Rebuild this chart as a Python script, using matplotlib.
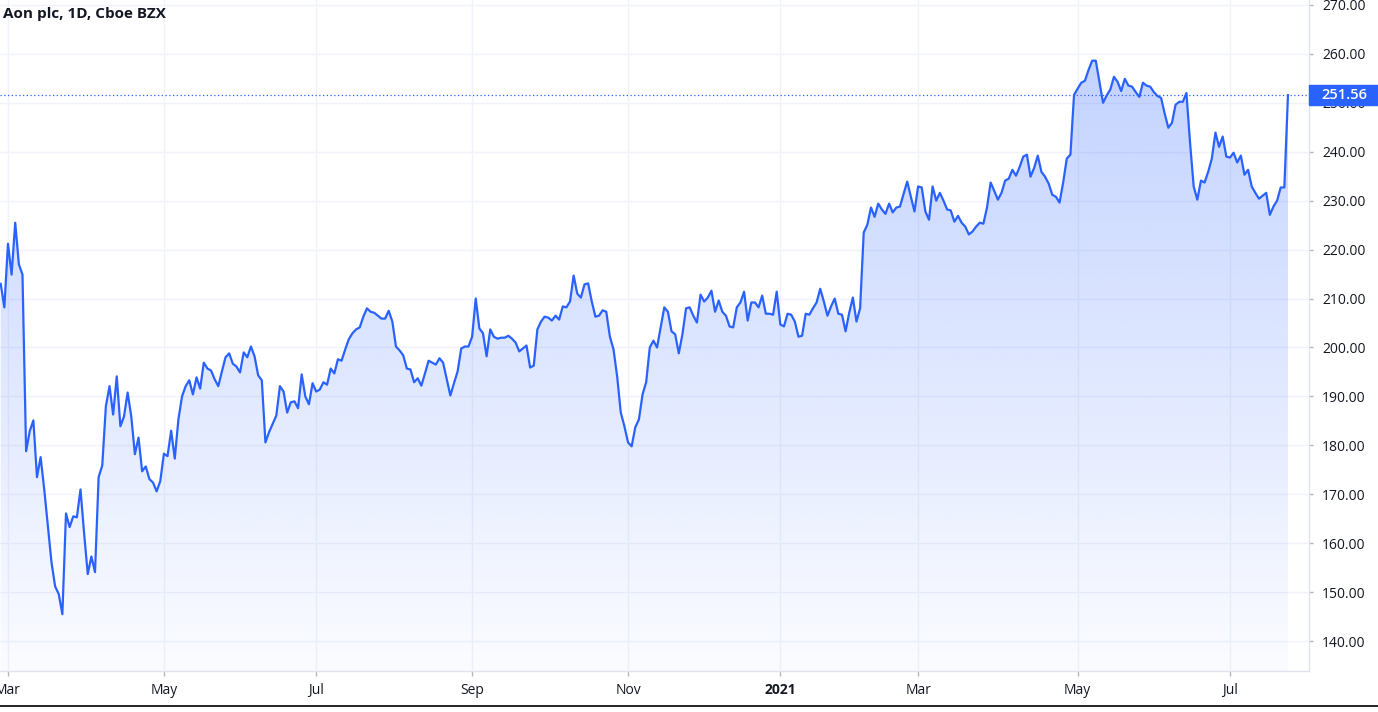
import numpy as np
import pandas as pd
import matplotlib
matplotlib.use("Agg")
import matplotlib.pyplot as plt
from matplotlib.colors import to_rgb
from matplotlib.lines import Line2D
from matplotlib.patches import Rectangle

TITLE = "Aon plc, 1D, Cboe BZX"
START, END = "2020-02-27", "2021-07-26"
HOLIDAYS = ["2020-04-10", "2020-05-25", "2020-07-03", "2020-09-07", "2020-11-26",
            "2020-12-25", "2021-01-01", "2021-01-18", "2021-02-15", "2021-04-02",
            "2021-05-31", "2021-07-05"]

# daily closes, one per trading day
closes = [
    # Feb 2020
    213.0, 208.2,
    # Mar 2020
    221.2, 214.9, 225.5, 217.0, 214.9, 178.8, 182.9, 185.1, 173.5, 177.6, 171.0,
    163.5, 156.1, 151.2, 149.6, 145.5, 166.1, 163.3, 165.5, 165.3, 171.0, 162.0,
    # Apr 2020
    153.7, 157.3, 154.1, 173.5, 175.9, 188.0, 192.1, 186.3, 194.1, 183.9, 185.9,
    190.8, 185.9, 178.2, 181.6, 174.7, 175.7, 173.1, 172.4, 170.6, 172.7,
    # May 2020
    178.3, 177.8, 183.0, 177.3, 185.3, 190.0, 192.1, 193.3, 190.4, 193.9, 191.6,
    196.9, 195.7, 195.3, 193.5, 192.1, 195.1, 198.0, 198.8, 196.7,
    # Jun 2020
    196.1, 194.9, 199.0, 198.0, 200.2, 198.2, 194.3, 193.3, 180.6, 182.7, 184.4,
    186.1, 192.1, 191.0, 186.7, 188.8, 189.0, 187.6, 194.5, 190.0, 188.4, 192.7,
    # Jul 2020
    191.0, 191.4, 192.9, 192.4, 195.7, 194.7, 197.6, 197.3, 199.6, 201.7, 202.9,
    203.7, 204.1, 206.3, 208.0, 207.3, 207.1, 206.5, 205.9, 205.9, 207.5, 205.3,
    # Aug 2020
    200.2, 199.4, 198.4, 195.7, 195.5, 192.9, 193.7, 192.2, 194.7, 197.3, 196.9,
    196.5, 197.8, 196.9, 193.5, 190.2, 192.7, 195.1, 199.8, 200.2, 200.2,
    # Sep 2020
    202.2, 210.0, 203.9, 202.9, 198.2, 203.7, 202.2, 201.8, 202.0, 202.0, 202.4,
    201.8, 201.0, 199.2, 199.8, 200.4, 195.9, 196.3, 203.7, 205.3, 206.3,
    # Oct 2020
    206.1, 205.5, 206.5, 205.7, 208.4, 208.2, 209.4, 214.7, 211.0, 210.2, 212.9,
    213.1, 209.4, 206.3, 206.5, 207.6, 207.3, 202.2, 199.6, 194.1, 186.7, 183.9,
    # Nov 2020
    180.6, 179.8, 183.7, 185.3, 190.4, 192.9, 200.0, 201.4, 200.0, 204.1, 208.2,
    207.3, 203.3, 202.7, 198.8, 202.7, 208.0, 208.2, 206.5, 205.1,
    # Dec 2020
    210.8, 209.4, 210.2, 211.6, 207.3, 209.6, 207.3, 206.5, 204.3, 204.1, 208.2,
    209.2, 211.4, 205.5, 209.2, 209.2, 208.2, 210.6, 206.9, 206.9, 206.7, 211.4,
    # Jan 2021
    204.7, 204.3, 206.9, 206.7, 205.3, 202.2, 202.4, 206.9, 206.7, 208.0, 209.2,
    212.0, 209.4, 206.5, 208.4, 210.0, 206.9, 206.7, 203.3,
    # Feb 2021
    207.1, 210.2, 205.3, 208.0, 223.5, 225.1, 228.6, 226.7, 229.4, 228.2, 227.3,
    229.4, 227.6, 228.6, 228.8, 231.4, 233.9, 230.8, 227.8,
    # Mar 2021
    232.9, 232.7, 227.8, 226.1, 232.9, 230.0, 231.6, 230.0, 228.2, 228.0, 225.7,
    226.9, 225.5, 224.7, 223.1, 223.7, 224.7, 225.5, 225.3, 228.6, 233.7, 232.0,
    230.2,
    # Apr 2021
    231.6, 234.1, 234.5, 236.3, 235.1, 236.9, 239.0, 239.4, 234.9, 236.7, 239.2,
    235.9, 234.9, 233.5, 231.2, 230.8, 229.6, 233.7, 238.6, 239.4, 251.6,
    # May 2021
    252.9, 254.1, 254.5, 256.7, 258.6, 258.6, 254.3, 250.0, 251.5, 252.7, 255.3,
    254.3, 252.4, 254.9, 253.5, 253.3, 252.2, 251.2, 254.1, 253.5,
    # Jun 2021
    253.3, 252.2, 251.4, 251.0, 247.8, 244.9, 245.9, 249.6, 250.2, 250.2, 252.0,
    241.8, 232.9, 230.2, 234.1, 233.7, 235.9, 238.6, 243.9, 241.0, 243.1, 239.0,
    # Jul 2021
    238.8, 239.8, 237.8, 239.2, 235.3, 236.3, 232.9, 231.6, 230.4, 231.0, 231.6,
    227.1, 228.8, 230.0, 232.7, 232.7, 251.56,
]

tick_months = ["2020-03", "2020-05", "2020-07", "2020-09", "2020-11",
               "2021-01", "2021-03", "2021-05", "2021-07"]
tick_labels = ["Mar", "May", "Jul", "Sep", "Nov", "2021", "Mar", "May", "Jul"]
price_ticks = [140, 150, 160, 170, 180, 190, 200, 210, 220, 230, 240, 250, 260, 270]

BLUE = "#2962ff"
TEXT = "#131722"
GRID = "#f0f3fa"
BORDER = "#e0e3eb"

plt.rcParams["font.family"] = ["Open Sans", "DejaVu Sans"]


def main():
    dates = pd.bdate_range(START, END, freq="C", holidays=HOLIDAYS)
    assert len(dates) == len(closes), (len(dates), len(closes))
    x = np.arange(len(dates))
    y = np.array(closes)

    W, H = 1378, 712
    fig = plt.figure(figsize=(W / 100, H / 100), dpi=100)
    ax = fig.add_axes([0, 41 / H, 1309 / W, 671 / H])

    xlim = (-0.2, 360.8)
    ylim = (133.9, 271.0)

    # gradient area under the line
    grad = np.zeros((256, 1, 4))
    grad[..., :3] = to_rgb(BLUE)
    grad[..., 3] = np.linspace(0.02, 0.28, 256)[:, None]
    img = ax.imshow(grad, extent=[xlim[0], xlim[1], ylim[0], y.max()],
                    origin="lower", aspect="auto", zorder=1, interpolation="bilinear")
    area = ax.fill_between(x, y, ylim[0], facecolor="none", edgecolor="none")
    img.set_clip_path(area.get_paths()[0], transform=ax.transData)

    ax.plot(x, y, color=BLUE, lw=1.6, zorder=3, solid_joinstyle="round")
    ax.axhline(y[-1], color=BLUE, lw=0.9, ls=(0, (1, 2)), zorder=2)

    ax.set_xlim(*xlim)
    ax.set_ylim(*ylim)

    # axes styling
    month_str = dates.strftime("%Y-%m")
    tick_pos = [int(np.argmax(month_str == m)) for m in tick_months]
    ax.set_xticks(tick_pos)
    ax.set_xticklabels(tick_labels)
    ax.set_yticks(price_ticks)
    ax.set_yticklabels([f"{v:.2f}" for v in price_ticks])
    ax.yaxis.tick_right()
    ax.tick_params(axis="y", length=3, width=1, pad=6.5, color="#b2b5be",
                   labelcolor=TEXT, labelsize=10)
    ax.tick_params(axis="x", length=3.5, width=1, pad=5, color="#b2b5be",
                   labelcolor=TEXT, labelsize=10)
    ax.get_xticklabels()[5].set_fontweight("bold")

    ax.grid(color=GRID, lw=1)
    ax.set_axisbelow(True)
    for side in ("top", "left"):
        ax.spines[side].set_visible(False)
    for side in ("right", "bottom"):
        ax.spines[side].set_color(BORDER)
        ax.spines[side].set_linewidth(1)

    # last price label on the price scale
    tr = ax.get_yaxis_transform()
    half = 10 / (671 / (ylim[1] - ylim[0]))
    ax.add_patch(Rectangle((1.0, y[-1] - half), W / 1309 - 1.0, 2 * half,
                           transform=tr, color=BLUE, clip_on=False, zorder=5))
    ax.text(1321 / 1309, y[-1], f"{y[-1]:.2f}", transform=tr, ha="left", va="center",
            color="white", fontsize=10.5, fontweight="semibold", zorder=6, clip_on=False)

    fig.text(3 / W, 1 - 14 / H, TITLE, ha="left", va="center", fontsize=11,
             fontweight="bold", color=TEXT)
    fig.add_artist(Line2D([0, 1], [6 / H, 6 / H], color="black", lw=1.2))

    fig.savefig("out.png", dpi=100)


if __name__ == "__main__":
    main()
